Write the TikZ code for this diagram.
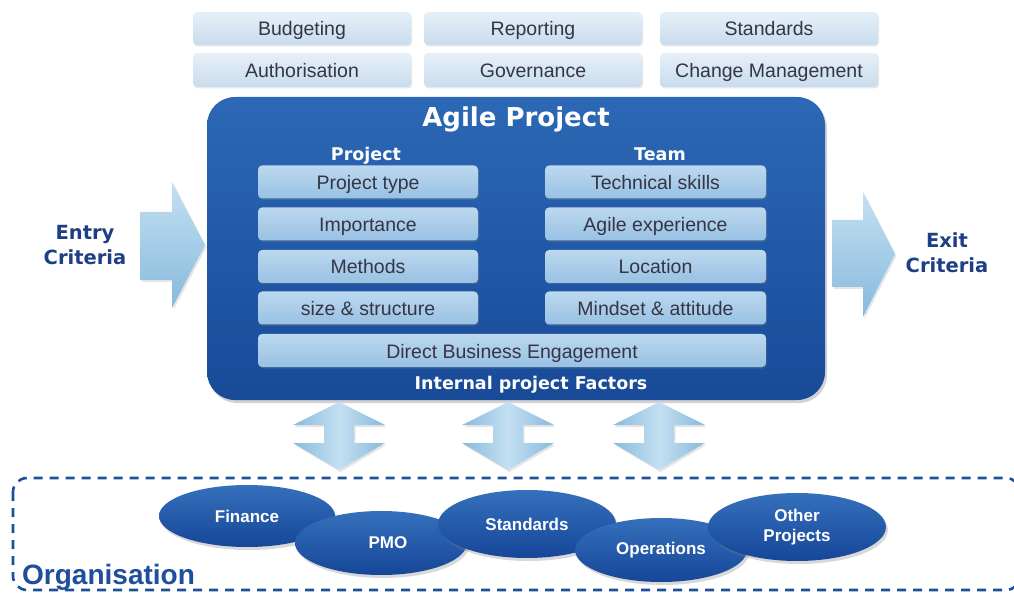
\documentclass[tikz,border=0pt]{standalone}
\usepackage{fontspec}
\setmainfont{Liberation Sans}
\newfontfamily\dvfont{DejaVu Sans}
\usetikzlibrary{shadows,shapes.geometric}
\definecolor{topA}{HTML}{E6F0F8}
\definecolor{topB}{HTML}{C8DCEE}
\definecolor{innA}{HTML}{BCD8EF}
\definecolor{innB}{HTML}{98C1E3}
\definecolor{bigA}{HTML}{2C68B5}
\definecolor{bigB}{HTML}{184A98}
\definecolor{ellA}{HTML}{3570BC}
\definecolor{ellB}{HTML}{164698}
\definecolor{arrA}{HTML}{C4E0F2}
\definecolor{arrB}{HTML}{86BADC}
\definecolor{navy}{HTML}{1E3F86}
\definecolor{txt}{HTML}{353545}
\definecolor{dashblue}{HTML}{1F4E9A}
\begin{document}
\begin{tikzpicture}[x=1pt,y=-1pt,
  topbox/.style={rounded corners=4pt, top color=topA, bottom color=topB,
    minimum width=218pt, minimum height=33pt, inner sep=0pt, text=txt,
    text height=15pt, text depth=0pt,
    font=\fontsize{19.5}{21}\selectfont,
    drop shadow={opacity=0.18, shadow xshift=1pt, shadow yshift=-1.5pt}},
  innbox/.style={rounded corners=4pt, top color=innA, bottom color=innB,
    minimum width=220pt, minimum height=33pt, inner sep=0pt, text=txt,
    text height=15pt, text depth=0pt,
    font=\fontsize{19.5}{21}\selectfont,
    drop shadow={opacity=0.3, shadow xshift=1pt, shadow yshift=-1.5pt}},
  bigbox/.style={rounded corners=28pt, top color=bigA, bottom color=bigB,
    inner sep=0pt,
    drop shadow={opacity=0.35, shadow xshift=2pt, shadow yshift=-3pt}},
  whitelbl/.style={text=white, font=\dvfont\bfseries\fontsize{17.5}{20}\selectfont, inner sep=0pt},
  crit/.style={text=navy, align=center, font=\dvfont\bfseries\fontsize{19.5}{25}\selectfont, inner sep=0pt},
  orgell/.style={ellipse, top color=ellA, bottom color=ellB, inner sep=0pt,
    text=white, align=center, font=\bfseries\fontsize{17}{20}\selectfont,
    drop shadow={opacity=0.3, shadow xshift=2pt, shadow yshift=-3pt}},
  blockarrow/.style={top color=arrA, bottom color=arrB,
    drop shadow={opacity=0.2, shadow xshift=1.5pt, shadow yshift=-2pt}},
  dblarrow/.style={left color=arrB, right color=arrB, middle color=arrA,
    drop shadow={opacity=0.2, shadow xshift=1.5pt, shadow yshift=-2pt}}
]
\useasboundingbox (0,0) rectangle (1014,593);
\fill[white] (0,0) rectangle (1014,593);

% top row boxes
\node[topbox] (budg) at (302,28.5) {Budgeting};
\node[topbox] (repo) at (533,28.5) {Reporting};
\node[topbox] (stdt) at (769,28.5) {Standards};
\node[topbox, minimum height=34pt] (auth) at (302,70) {Authorisation};
\node[topbox, minimum height=34pt] (gove) at (533,70) {Governance};
\node[topbox, minimum height=34pt] (chmg) at (769,70) {Change Management};

% big box
\node[bigbox, minimum width=618pt, minimum height=303pt] (agile) at (516,248.5) {};
\node[whitelbl, anchor=base, font=\dvfont\bfseries\fontsize{26}{30}\selectfont] (title) at (516,127) {Agile Project};
\node[whitelbl, anchor=base] (projlbl) at (366,161) {Project};
\node[whitelbl, anchor=base] (teamlbl) at (660,161) {Team};
\node[whitelbl, anchor=base] (intlbl) at (531,389) {Internal project Factors};

% inner boxes
\node[innbox] (ptype) at (368,182) {Project type};
\node[innbox] (impo) at (368,224) {Importance};
\node[innbox] (meth) at (368,266.5) {Methods};
\node[innbox] (size) at (368,308) {size \& structure};
\node[innbox, minimum width=221pt] (tech) at (655.5,182) {Technical skills};
\node[innbox, minimum width=221pt] (agexp) at (655.5,224) {Agile experience};
\node[innbox, minimum width=221pt] (loca) at (655.5,266.5) {Location};
\node[innbox, minimum width=221pt] (mind) at (655.5,308) {Mindset \& attitude};
\node[innbox, minimum width=508pt] (dbe) at (512,350.5) {Direct Business Engagement};

% entry / exit
\node[crit] (entry) at (85,245) {Entry\\Criteria};
\node[crit] (exit) at (947,253) {Exit\\Criteria};
\path[blockarrow] (140,212) -- (172,212) -- (172,182) -- (205,245) -- (172,308) -- (172,280) -- (140,280) -- cycle;
\path[blockarrow] (832,220) -- (863,220) -- (863,192) -- (895,254) -- (863,317) -- (863,287) -- (832,287) -- cycle;

% double arrows
\foreach \cx in {339,508,659}{
  \path[dblarrow] (\cx,402) -- (\cx+46,425) -- (\cx+15,425) -- (\cx+15,443) -- (\cx+46,443)
    -- (\cx,470) -- (\cx-46,443) -- (\cx-15,443) -- (\cx-15,425) -- (\cx-46,425) -- cycle;
}

% organisation dashed frame
\draw[dashblue, line width=2.6pt, dash pattern=on 9pt off 7pt, rounded corners=14pt]
  (13,478) rectangle (1020,590);

% organisation ellipses
\node[orgell, minimum width=176pt, minimum height=62pt] (fin) at (247,516) {Finance};
\node[orgell, minimum width=172pt, minimum height=64pt] (pmo) at (381,543) {\hspace*{14pt}PMO};
\node[orgell, minimum width=178pt, minimum height=68pt] (std) at (527,524) {Standards};
\node[orgell, minimum width=172pt, minimum height=64pt] (ops) at (661,550) {Operations};
\node[orgell, minimum width=178pt, minimum height=68pt] (oth) at (797,527) {Other\\Projects};

\node[anchor=base west, text=dashblue, font=\bfseries\fontsize{28}{30}\selectfont, inner sep=0pt] (org) at (22,584) {Organisation};
\end{tikzpicture}
\end{document}
